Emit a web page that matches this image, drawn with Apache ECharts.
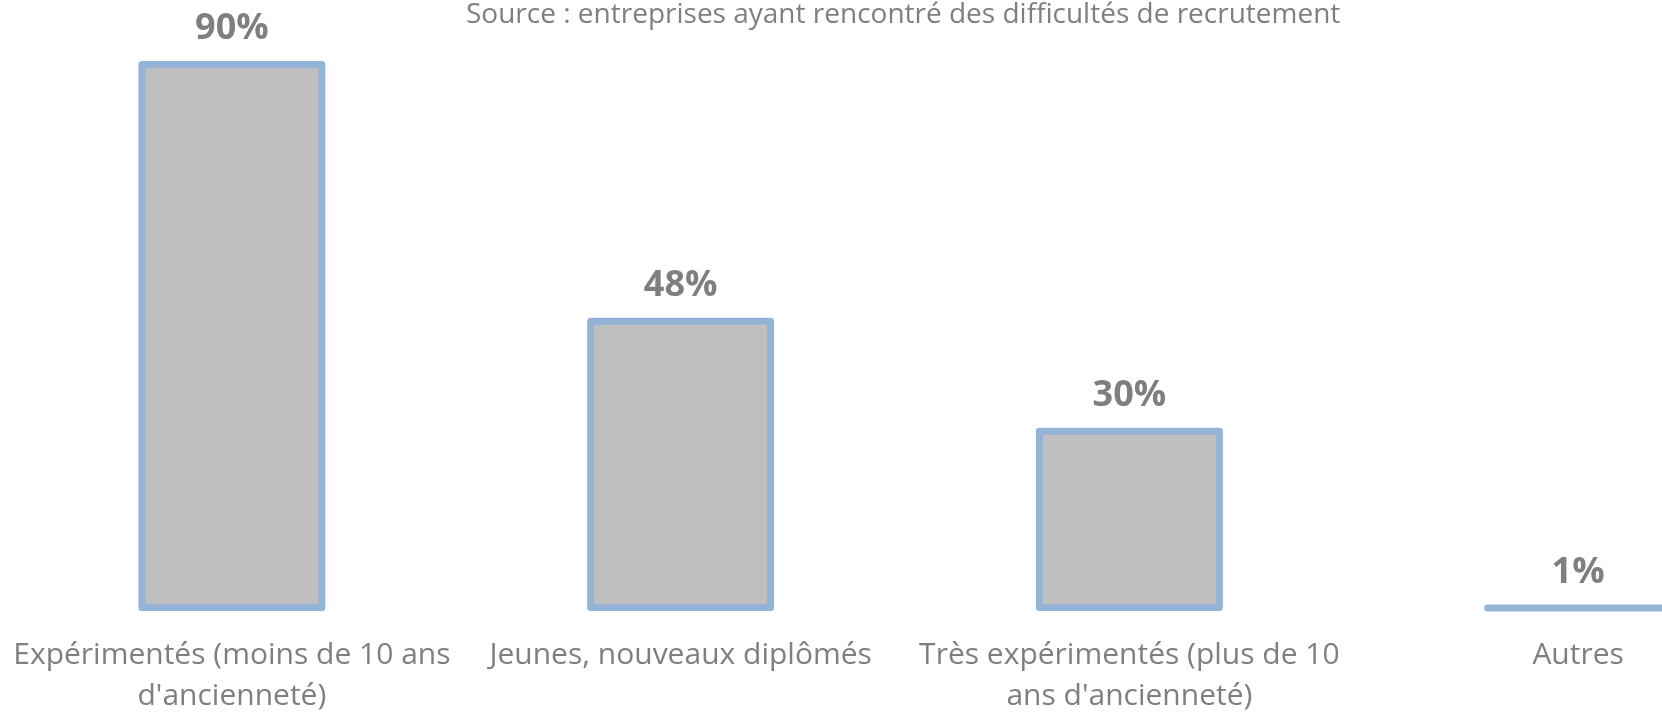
<!DOCTYPE html>
<html>
    <head>
        <meta charset="utf-8">
        <title>difficultes recrutement</title>
        <script src="https://cdn.jsdelivr.net/npm/echarts@6/dist/echarts.min.js"></script>
    </head>
    <body style="margin:0">
        <style>
            html, body, #main {
                width: 100%;
                height: 100%;
                margin: 0;
            }
        </style>
        <div id="main"></div>
        <script>
            var sourceText = 'Source : entreprises ayant rencontré des difficultés de recrutement';

            var categories = [
                'Expérimentés (moins de 10 ans\nd\'ancienneté)',
                'Jeunes, nouveaux diplômés',
                'Très expérimentés (plus de 10\nans d\'ancienneté)',
                'Autres'
            ];
            var values = [90, 48, 30, 1];

            var chart = echarts.init(document.getElementById('main'));

            chart.setOption({
                animation: false,
                title: {
                    text: sourceText,
                    left: 466,
                    top: 1,
                    padding: 0,
                    textStyle: {
                        fontFamily: 'Open Sans',
                        fontSize: 28,
                        fontWeight: 'normal',
                        color: '#7f7f7f'
                    }
                },
                // grid runs past the right edge: the last bar is cut off like in the original
                grid: {
                    left: 7.5,
                    width: 1795,
                    top: 61,
                    bottom: 101,
                    outerBoundsMode: 'none',
                    containLabel: false
                },
                xAxis: {
                    type: 'category',
                    data: categories,
                    axisLine: { show: false },
                    axisTick: { show: false },
                    axisLabel: {
                        interval: 0,
                        margin: 24,
                        fontFamily: 'Open Sans',
                        fontSize: 30,
                        lineHeight: 41,
                        color: '#7f7f7f'
                    }
                },
                yAxis: {
                    type: 'value',
                    min: 0,
                    max: 90,
                    show: false,
                    splitLine: { show: false }
                },
                series: [{
                    type: 'bar',
                    data: values,
                    barWidth: 187,
                    itemStyle: {
                        color: '#bfbfbf',
                        borderColor: '#95b3d7',
                        borderWidth: 7,
                        borderJoin: 'round'
                    },
                    label: {
                        show: true,
                        position: 'top',
                        distance: 14,
                        formatter: '{c}%',
                        fontFamily: 'Open Sans',
                        fontSize: 36,
                        fontWeight: 'bold',
                        color: '#7f7f7f'
                    }
                }]
            });

            window.addEventListener('resize', function () {
                chart.resize();
            });
        </script>
    </body>
</html>
